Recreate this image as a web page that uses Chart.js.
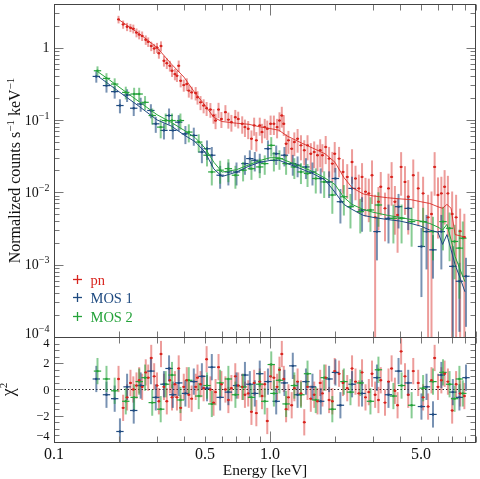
<!DOCTYPE html>
<html>
<head>
<meta charset="UTF-8">
<title>Spectrum</title>
<script src="https://cdn.jsdelivr.net/npm/chart.js@4.4.1/dist/chart.umd.min.js"></script>
<style>
  body { margin: 0; background: #fff; }
  canvas { display: block; }
</style>
</head>
<body>
<canvas id="spec" width="480" height="479"></canvas>
<script>
// ---- values ----
// pn: bin energy [keV], rate, relative error, chi residual
const pnE = [0.199,0.209,0.218,0.226,0.233,0.241,0.248,0.256,0.266,0.273,
  0.282,0.291,0.300,0.306,0.313,0.323,0.333,0.344,0.352,0.363,
  0.371,0.378,0.386,0.399,0.412,0.421,0.434,0.453,0.462,0.477,
  0.493,0.509,0.530,0.548,0.560,0.578,0.596,0.622,0.642,0.663,
  0.691,0.713,0.744,0.766,0.793,0.821,0.845,0.865,0.897,0.919,
  0.946,0.972,1.007,1.043,1.079,1.107,1.135,1.159,1.188,1.218,
  1.261,1.297,1.343,1.392,1.442,1.493,1.546,1.603,1.660,1.709,
  1.750,1.812,1.879,1.945,1.995,2.09,2.18,2.28,2.40,2.49,
  2.58,2.67,2.77,2.87,2.97,3.07,3.18,3.26,3.41,3.54,
  3.66,3.79,3.90,4.05,4.22,4.37,4.61,4.86,5.12,5.40,
  5.60,5.79,6.00,6.22,6.44,6.67,6.98,7.28,7.60,7.95];
const pnRate = [2.45,2.09,1.94,1.88,1.82,1.61,1.51,1.45,1.28,1.20,
  1.05,0.97,1.00,0.835,1.05,0.656,0.608,0.56,0.478,0.43,
  0.408,0.56,0.348,0.303,0.313,0.254,0.240,0.235,0.206,0.175,
  0.158,0.145,0.139,0.115,0.098,0.139,0.103,0.128,0.101,0.093,
  0.109,0.103,0.0883,0.0795,0.0753,0.055,0.0839,0.0522,0.0839,0.0679,
  0.0795,0.0753,0.0883,0.0883,0.0795,0.098,0.115,0.0883,0.0469,0.0522,
  0.040,0.0494,0.055,0.0445,0.038,0.0445,0.0341,0.036,0.0325,0.038,
  0.0325,0.0422,0.0292,0.0249,0.0341,0.0292,0.0191,0.0163,0.0262,0.0155,
  0.0113,0.0163,0.0102,0.00964,0.0172,0.0045,0.0074,0.0119,0.00599,0.0113,
  0.0163,0.0074,0.00486,0.0224,0.0139,0.00867,0.0172,0.0113,0.00964,0.0045,
  0.005,0.0224,0.00916,0.00964,0.0119,0.00964,0.005,0.0045,0.0029,0.0024];
const pnRelErr = [0.12,0.13,0.13,0.13,0.14,0.14,0.14,0.15,0.15,0.15,
  0.15,0.16,0.16,0.16,0.16,0.17,0.17,0.17,0.18,0.18,
  0.18,0.18,0.19,0.19,0.2,0.2,0.2,0.21,0.21,0.22,
  0.22,0.22,0.23,0.23,0.24,0.24,0.25,0.25,0.25,0.26,
  0.26,0.26,0.27,0.27,0.28,0.3,0.28,0.3,0.28,0.3,
  0.3,0.3,0.3,0.3,0.3,0.3,0.32,0.32,0.35,0.35,
  0.36,0.36,0.36,0.38,0.38,0.38,0.4,0.4,0.4,0.42,
  0.42,0.42,0.45,0.45,0.45,0.45,0.5,0.5,0.5,0.5,
  0.55,0.55,0.55,0.6,0.6,1.05,0.6,0.6,0.65,0.6,
  0.6,0.65,0.7,0.6,0.65,0.7,0.65,0.7,0.7,1.05,
  1.05,0.6,0.75,0.7,0.7,0.75,1.05,1.05,1.05,1.1];
const pnChi = [0.8,-1.4,-0.6,0.5,0.0,0.3,0.7,0.2,1.3,0.9,
  2.4,1.0,0.3,-0.9,2.7,0.2,-0.9,0.7,-0.6,0.4,
  -0.6,1.6,-1.4,0.2,0.7,-0.4,-0.7,0.2,0.9,0.4,
  0.1,2.3,0.0,-1.0,-0.2,1.7,0.4,0.0,-0.8,0.1,
  1.0,0.3,0.2,-0.4,-0.3,-1.7,0.5,-1.8,0.6,-0.5,
  0.4,-2.4,1.0,0.9,0.2,1.5,2.7,0.8,-1.5,-0.6,
  -1.2,0.1,0.6,-0.3,-2.5,0.2,-0.7,-0.4,-0.9,0.5,
  -0.3,0.9,-0.8,-0.9,1.4,1.2,0.5,0.1,1.6,0.6,
  -0.3,1.3,-0.6,-0.2,1.2,-0.4,-0.8,0.7,-1.0,0.6,
  1.6,-0.1,-1.2,2.9,1.0,-0.4,1.4,0.5,-0.6,-1.3,
  0.7,2.4,0.2,0.7,1.2,0.6,-1.6,0.4,-0.3,-0.5];

const mos1E = [0.157,0.175,0.191,0.202,0.218,0.234,0.252,0.281,0.296,0.323,
  0.341,0.355,0.378,0.406,0.444,0.484,0.511,0.538,0.588,0.642,
  0.700,0.766,0.807,0.851,0.897,0.979,1.069,1.167,1.276,1.343,
  1.468,1.574,1.718,1.879,2.01,2.12,2.40,2.67,3.13,3.54,
  3.94,4.37,5.03,5.31,5.69,6.22,7.03,7.54,8.09];
const mos1Rate = [0.399,0.298,0.246,0.158,0.221,0.145,0.166,0.135,0.0883,0.0716,
  0.115,0.0716,0.093,0.0643,0.061,0.036,0.040,0.0325,0.0172,0.0191,
  0.0191,0.0249,0.0292,0.0277,0.0262,0.040,0.0341,0.0325,0.0249,0.0237,
  0.0224,0.0191,0.0155,0.0139,0.0155,0.0074,0.0113,0.00569,0.00286,0.00436,
  0.00632,0.00599,0.00178,0.00286,0.0016,0.00286,0.000946,0.000589,0.00069];
const mos1RelErr = [0.18,0.2,0.2,0.22,0.2,0.22,0.22,0.22,0.25,0.25,
  0.25,0.25,0.25,0.28,0.28,0.3,0.3,0.3,0.35,0.35,
  0.35,0.3,0.3,0.3,0.3,0.3,0.3,0.3,0.32,0.32,
  0.32,0.35,0.38,0.4,0.4,0.5,0.45,0.5,0.6,0.55,
  0.5,0.5,0.8,0.7,0.6,0.7,0.9,0.8,0.8];
const mos1Chi = [0.8,-0.4,-0.7,-3.2,0.2,-1.6,0.3,1.4,-0.6,0.4,
  1.6,-0.4,0.5,-0.3,0.6,1.0,0.1,1.7,-0.6,-0.2,
  0.3,1.1,0.4,-0.3,1.2,0.6,-0.9,0.5,1.8,-0.4,
  0.6,0.2,-0.9,0.8,1.3,-1.2,0.4,-0.3,0.9,-0.4,
  1.4,0.5,-1.3,0.2,-1.9,1.1,-0.2,-0.6,0.9];

const mos2E = [0.159,0.175,0.191,0.215,0.235,0.248,0.264,0.285,0.312,0.329,
  0.352,0.385,0.421,0.468,0.511,0.538,0.588,0.642,0.692,0.751,
  0.821,0.897,0.946,1.014,1.043,1.107,1.188,1.297,1.392,1.493,
  1.63,1.783,1.945,2.20,2.36,2.62,2.92,3.18,3.73,4.07,
  4.53,5.12,5.69,6.33,6.79,7.16,7.54,7.82];
const mos2Rate = [0.478,0.375,0.313,0.240,0.228,0.228,0.175,0.115,0.0795,0.098,
  0.098,0.098,0.0679,0.0494,0.0325,0.0191,0.0202,0.0212,0.0172,0.0202,
  0.0212,0.0224,0.0249,0.0445,0.0277,0.0292,0.0249,0.0224,0.0191,0.0182,
  0.0155,0.0139,0.00916,0.00867,0.00632,0.0054,0.00569,0.00667,0.00436,0.00436,
  0.00393,0.00393,0.00286,0.00393,0.00318,0.00209,0.00169,0.00232];
const mos2RelErr = [0.15,0.18,0.2,0.2,0.22,0.22,0.22,0.25,0.3,0.25,
  0.25,0.25,0.28,0.28,0.3,0.35,0.35,0.35,0.35,0.3,
  0.3,0.3,0.3,0.3,0.3,0.3,0.3,0.32,0.32,0.35,
  0.38,0.4,0.45,0.45,0.5,0.5,0.5,0.5,0.55,0.55,
  0.55,0.55,0.6,0.6,0.65,0.7,0.8,0.7];
const mos2Chi = [1.4,0.8,-0.1,-0.9,-0.6,0.6,0.9,-1.0,-1.5,0.4,
  1.1,-0.8,0.7,-0.5,0.3,-1.1,0.5,0.8,-0.4,0.2,
  -0.6,0.4,-0.9,1.9,-0.3,0.7,-1.1,0.3,-0.4,1.2,
  -0.8,0.9,-1.5,0.6,-0.2,0.5,-0.9,1.5,-0.5,0.3,
  -1.2,0.1,0.6,1.3,0.4,-0.7,0.8,-0.3];

// folded model curves
const modelE = [0.16,0.18,0.2,0.25,0.3,0.35,0.4,0.45,0.5,0.55,
  0.6,0.7,0.8,0.9,1.0,1.1,1.2,1.4,1.6,1.8,
  2.0,2.2,2.4,2.7,3.0,3.5,4.0,4.5,5.0,5.5,
  6.0,6.3,6.6,6.9,7.2,7.6,8.0];
const pnModel = [null,null,2.42,1.53,1.0,0.59,0.39,0.235,0.16,0.108,
  0.095,0.090,0.087,0.080,0.076,0.072,0.060,0.048,0.040,0.034,
  0.026,0.016,0.0116,0.0095,0.0089,0.0084,0.0081,0.0079,0.0074,0.0070,
  0.0063,0.0060,0.0068,0.0060,0.0026,0.0025,0.0024];
const mos1Model = [0.40,0.31,0.245,0.151,0.10,0.082,0.062,0.050,0.036,0.021,
  0.0165,0.019,0.023,0.026,0.0275,0.0277,0.025,0.021,0.0178,0.0148,
  0.010,0.0068,0.0058,0.0048,0.0045,0.0042,0.0040,0.0037,0.0034,0.0030,
  0.0028,0.0019,0.0026,0.0016,0.0010,0.00065,0.00042];
const mos2Model = [0.46,0.36,0.285,0.175,0.118,0.092,0.072,0.057,0.041,0.026,
  0.019,0.0205,0.024,0.0275,0.030,0.030,0.027,0.0225,0.019,0.0157,
  0.0128,0.0085,0.0068,0.0058,0.0053,0.0048,0.0045,0.0042,0.0040,0.0037,
  0.0033,0.0030,0.0036,0.0022,0.0013,0.00085,0.00058];

const legendLabels = ['pn', 'MOS 1', 'MOS 2'];
const xLabelValues = [0.1, 0.5, 1, 5];
const xLabelTexts = ['0.1', '0.5', '1.0', '5.0'];
const yLabelValues = [1, 0.1, 0.01, 0.001, 0.0001];
const yLabelExps = ['', '\u22121', '\u22122', '\u22123', '\u22124'];
const chiLabelValues = [4, 2, 0, -2, -4];

// ---- style ----
const RED = '#d8241e', BLUE = '#1e4a80', GREEN = '#24a23a';
const SERIF = '"Liberation Serif", "DejaVu Serif", serif';
const PN_BIN = 0.016, MOS_BIN = 0.04;   // half bin width, fraction of E

function alpha(hex, a) {
  const n = parseInt(hex.slice(1), 16);
  return 'rgba(' + (n >> 16) + ',' + ((n >> 8) & 255) + ',' + (n & 255) + ',' + a + ')';
}
const pts = (E, v) => E.map((e, i) => ({ x: e, y: v[i] }));

function spectrum(label, E, v, rel, color, bin, barAlpha) {
  return { label, data: pts(E, v), yAxisID: 'y', errs: v.map((y, i) => y * rel[i]),
    color, bin, barAlpha, pointRadius: 1.2, pointBackgroundColor: color, pointBorderWidth: 0 };
}
function residuals(label, E, chi, color, bin, barAlpha) {
  return { label, data: pts(E, chi), yAxisID: 'yR', errs: chi.map(() => 1),
    color, bin, barAlpha, pointRadius: 1.2, pointBackgroundColor: color, pointBorderWidth: 0 };
}
function model(E, v, color) {
  return { type: 'line', data: pts(E, v), yAxisID: 'y', borderColor: color, borderWidth: 1,
    pointRadius: 0, tension: 0, spanGaps: false };
}

const datasets = [
  model(modelE, pnModel, alpha(RED, 0.85)),
  model(modelE, mos1Model, BLUE),
  model(modelE, mos2Model, GREEN),
  spectrum('pn', pnE, pnRate, pnRelErr, RED, PN_BIN, 0.45),
  spectrum('MOS 1', mos1E, mos1Rate, mos1RelErr, BLUE, MOS_BIN, 0.6),
  spectrum('MOS 2', mos2E, mos2Rate, mos2RelErr, GREEN, MOS_BIN, 0.55),
  residuals('pn', pnE, pnChi, RED, PN_BIN, 0.45),
  residuals('MOS 1', mos1E, mos1Chi, BLUE, MOS_BIN, 0.6),
  residuals('MOS 2', mos2E, mos2Chi, GREEN, MOS_BIN, 0.55)
];

// error crosses and the zero line of the residual panel
const errorBars = {
  id: 'errorBars',
  beforeDatasetsDraw(chart) {
    const { ctx, scales } = chart;
    const x = scales.x, yR = scales.yR;
    ctx.save();
    ctx.strokeStyle = '#222';
    ctx.lineWidth = 1;
    ctx.setLineDash([1.5, 2]);
    const y0 = Math.round(yR.getPixelForValue(0)) + 0.5;
    ctx.beginPath(); ctx.moveTo(x.left, y0); ctx.lineTo(x.right, y0); ctx.stroke();
    ctx.restore();

    chart.data.datasets.forEach(ds => {
      if (!ds.errs) return;
      const ys = scales[ds.yAxisID];
      const log = ys.type === 'logarithmic';
      ctx.save();
      ctx.beginPath();
      ctx.rect(x.left, ys.top, x.right - x.left, ys.bottom - ys.top);
      ctx.clip();
      ds.data.forEach((p, i) => {
        const e = ds.errs[i];
        const px = x.getPixelForValue(p.x);
        const py = ys.getPixelForValue(p.y);
        const top = ys.getPixelForValue(p.y + e);
        const bot = (log && p.y - e <= 0) ? ys.bottom + 2 : ys.getPixelForValue(p.y - e);
        ctx.strokeStyle = alpha(ds.color, ds.barAlpha);
        ctx.lineWidth = 2;
        ctx.beginPath(); ctx.moveTo(px, top); ctx.lineTo(px, bot); ctx.stroke();
        ctx.strokeStyle = ds.color;
        ctx.lineWidth = 1.2;
        ctx.beginPath();
        ctx.moveTo(x.getPixelForValue(p.x / (1 + ds.bin)), py);
        ctx.lineTo(x.getPixelForValue(p.x * (1 + ds.bin)), py);
        ctx.stroke();
      });
      ctx.restore();
    });
  }
};

// text with raised parts: segs = [[text, size, raise]]
function richText(ctx, segs, x, y, align) {
  const w = segs.map(s => { ctx.font = s[1] + 'px ' + SERIF; return ctx.measureText(s[0]).width; });
  const total = w.reduce((a, b) => a + b, 0);
  let cx = align === 'right' ? x - total : align === 'center' ? x - total / 2 : x;
  ctx.textAlign = 'left';
  ctx.textBaseline = 'alphabetic';
  segs.forEach((s, i) => {
    ctx.font = s[1] + 'px ' + SERIF;
    ctx.fillText(s[0], cx, y - (s[2] || 0));
    cx += w[i];
  });
}

// frame, inward ticks, labels, titles, legend
const frame = {
  id: 'frame',
  afterDraw(chart) {
    const { ctx, scales } = chart;
    const x = scales.x, yS = scales.y, yR = scales.yR;
    const L = Math.round(x.left) + 0.5, R = Math.round(x.right) - 0.5;
    const seg = (x0, y0, x1, y1) => { ctx.beginPath(); ctx.moveTo(x0, y0); ctx.lineTo(x1, y1); ctx.stroke(); };
    const xp = v => Math.round(x.getPixelForValue(v)) + 0.5;
    ctx.save();

    ctx.strokeStyle = '#777';
    ctx.lineWidth = 1;
    const xTicks = [];
    [0.1, 1].forEach(d => { for (let m = 1; m <= 9; m++) xTicks.push([d * m, m === 1]); });
    [yS, yR].forEach(ys => {
      const t = Math.round(ys.top) + 0.5, b = Math.round(ys.bottom) + 0.5;
      xTicks.forEach(([v, major]) => {
        const p = xp(v), len = major ? 11 : 6;
        seg(p, t, p, t + len);
        seg(p, b, p, b - len);
      });
    });
    for (let k = -4; k <= 0; k++) {
      for (let m = 1; m <= 9; m++) {
        const v = m * Math.pow(10, k);
        if (v > yS.max) continue;
        const p = Math.round(yS.getPixelForValue(v)) + 0.5, len = m === 1 ? 9 : 5;
        seg(L, p, L + len, p);
        seg(R, p, R - len, p);
      }
    }
    for (let v = -4; v <= 4; v += 0.5) {
      const p = Math.round(yR.getPixelForValue(v)) + 0.5, len = v % 2 === 0 ? 9 : 5;
      seg(L, p, L + len, p);
      seg(R, p, R - len, p);
    }

    ctx.strokeStyle = '#444';
    const T = Math.round(yS.top) + 0.5, M = Math.round(yS.bottom) + 0.5, B = Math.round(yR.bottom) + 0.5;
    ctx.strokeRect(L, T, R - L, B - T);
    seg(L, M, R, M);

    ctx.fillStyle = '#111';
    xLabelValues.forEach((v, i) => {
      richText(ctx, [[xLabelTexts[i], 16]], x.getPixelForValue(v), B + 16.5, 'center');
    });
    richText(ctx, [['Energy [keV]', 15.5]], (x.left + x.right) / 2, 475, 'center');

    yLabelValues.forEach((v, i) => {
      let p = yS.getPixelForValue(v) + 4.8;
      if (i === yLabelValues.length - 1) p -= 4;
      const segs = yLabelExps[i] ? [['10', 14], [yLabelExps[i], 10, 6]] : [['1', 14]];
      richText(ctx, segs, L - 5, p, 'right');
    });
    chiLabelValues.forEach(v => {
      let p = yR.getPixelForValue(v) + 4.2;
      if (v === 4) p += 6;
      if (v === -4) p -= 6;
      richText(ctx, [[v < 0 ? '\u2212' + (-v) : String(v), 12.5]], L - 5, p, 'right');
    });

    ctx.save();
    ctx.translate(20, (yS.top + yS.bottom) / 2);
    ctx.rotate(-Math.PI / 2);
    richText(ctx, [['Normalized counts s', 16], ['\u22121', 11, 6], [' keV', 16], ['\u22121', 11, 6]], 0, 0, 'center');
    ctx.restore();
    ctx.save();
    ctx.translate(14, (yR.top + yR.bottom) / 2);
    ctx.rotate(-Math.PI / 2);
    richText(ctx, [['\u03c7', 18], ['2', 11, 7]], 0, 0, 'center');
    ctx.restore();

    [RED, BLUE, GREEN].forEach((c, i) => {
      const cy = Math.round(yS.bottom - 58 + i * 18.5) + 0.5, cx = Math.round(x.left + 23) + 0.5;
      ctx.strokeStyle = c;
      ctx.lineWidth = 1.3;
      seg(cx - 4.5, cy, cx + 4.5, cy);
      seg(cx, cy - 4.5, cx, cy + 4.5);
      ctx.fillStyle = c;
      richText(ctx, [[legendLabels[i], 14.5]], cx + 13, cy + 5, 'left');
    });
    ctx.restore();
  }
};

new Chart(document.getElementById('spec'), {
  type: 'scatter',
  data: { datasets },
  options: {
    responsive: false,
    animation: false,
    devicePixelRatio: 1,
    events: [],
    layout: { padding: { left: 54, right: 1, top: 0, bottom: 37 } },
    plugins: { legend: { display: false }, tooltip: { enabled: false } },
    scales: {
      x: { type: 'logarithmic', min: 0.1, max: 9, display: false },
      yR: { type: 'linear', position: 'left', stack: 'panels', stackWeight: 106, min: -4, max: 4, display: false },
      y: { type: 'logarithmic', position: 'left', stack: 'panels', stackWeight: 336, min: 1e-4, max: 4, display: false }
    }
  },
  plugins: [errorBars, frame]
});
</script>
</body>
</html>
